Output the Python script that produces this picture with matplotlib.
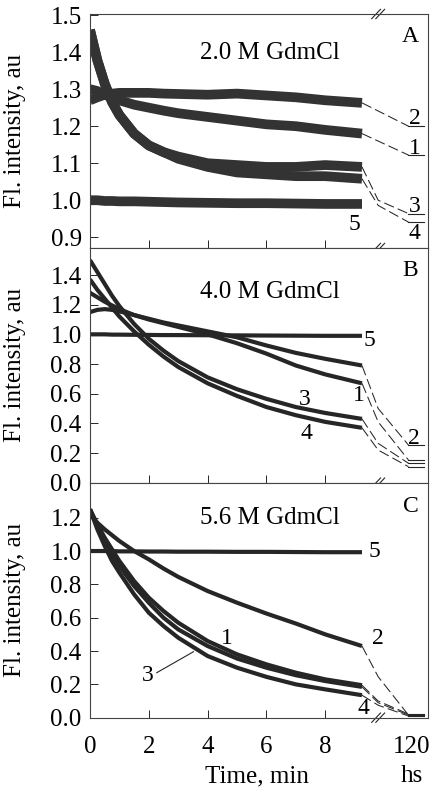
import matplotlib
matplotlib.use("Agg")
import matplotlib.pyplot as plt
from matplotlib.transforms import blended_transform_factory

plt.rcParams['font.family'] = ['Liberation Serif', 'DejaVu Serif']

# time points (min)
t = [0, 0.25, 0.5, 0.75, 1, 1.5, 2, 2.5, 3, 4, 5, 6, 7, 8, 9.25]

# A: 2.0 M GdmCl
a1 = [1.30, 1.295, 1.285, 1.277, 1.27, 1.258, 1.25, 1.242, 1.235, 1.225, 1.215, 1.205, 1.20, 1.19, 1.18]
a2 = [1.27, 1.278, 1.285, 1.288, 1.29, 1.29, 1.29, 1.288, 1.287, 1.285, 1.288, 1.283, 1.278, 1.27, 1.263]
a3 = [1.46, 1.378, 1.315, 1.265, 1.23, 1.18, 1.148, 1.13, 1.118, 1.10, 1.095, 1.09, 1.09, 1.095, 1.09]
a4 = [1.46, 1.378, 1.315, 1.265, 1.23, 1.18, 1.148, 1.13, 1.112, 1.09, 1.075, 1.07, 1.065, 1.065, 1.058]
a5 = [1.0, 1.0, 0.998, 0.998, 0.997, 0.997, 0.996, 0.995, 0.994, 0.993, 0.992, 0.992, 0.991, 0.99, 0.99]
a_break = [None, None, 1.00, 0.986]
a_final = [1.122, 1.20, 0.964, 0.941]

# B: 4.0 M GdmCl
b1 = [1.28, 1.25, 1.22, 1.195, 1.17, 1.13, 1.10, 1.075, 1.05, 1.00, 0.94, 0.87, 0.79, 0.73, 0.67]
b2 = [1.15, 1.165, 1.17, 1.165, 1.155, 1.13, 1.105, 1.08, 1.06, 1.02, 0.98, 0.925, 0.875, 0.835, 0.79]
b3 = [1.50, 1.42, 1.34, 1.26, 1.19, 1.07, 0.97, 0.89, 0.82, 0.71, 0.63, 0.565, 0.51, 0.47, 0.43]
b4 = [1.37, 1.30, 1.24, 1.18, 1.12, 1.02, 0.93, 0.85, 0.78, 0.67, 0.585, 0.51, 0.455, 0.41, 0.37]
b5 = [1.0, 1.0, 1.0, 0.998, 0.998, 0.997, 0.996, 0.995, 0.995, 0.994, 0.993, 0.992, 0.991, 0.99, 0.99]
b_break = [0.41, 0.50, 0.265, 0.22]
b_final = [0.153, 0.254, 0.131, 0.108]

# C: 5.6 M GdmCl
c1 = [1.25, 1.16, 1.08, 1.01, 0.94, 0.82, 0.72, 0.64, 0.57, 0.46, 0.38, 0.32, 0.27, 0.23, 0.195]
c2 = [1.22, 1.17, 1.13, 1.095, 1.06, 1.0, 0.95, 0.895, 0.845, 0.76, 0.69, 0.625, 0.565, 0.50, 0.43]
c3 = [1.25, 1.15, 1.06, 0.98, 0.91, 0.79, 0.69, 0.60, 0.53, 0.43, 0.355, 0.30, 0.255, 0.22, 0.185]
c4 = [1.25, 1.13, 1.03, 0.94, 0.87, 0.74, 0.63, 0.55, 0.48, 0.37, 0.30, 0.245, 0.20, 0.17, 0.135]
c5 = [1.0, 1.0, 1.0, 1.0, 0.998, 0.998, 0.997, 0.997, 0.996, 0.996, 0.995, 0.995, 0.994, 0.993, 0.993]
c_break = [0.10, 0.246, 0.09, 0.075]
c_final = [0.022, 0.016, 0.016, 0.01]

X_BREAK = 9.8    # axis break between minutes and hours
X_HS = 10.95     # position of the 120 hs point
INK = '#262626'


def draw_panel(ax, curves, breaks, finals, lw, color=INK):
    for y in curves:
        ax.plot(t, y, color=color, lw=lw, solid_capstyle='butt', solid_joinstyle='round')
    # dashed connectors from the end of the run to the 120 hs value
    for y, yb, yf in zip(curves[:4], breaks, finals):
        xs = [t[-1], X_BREAK, X_HS - 0.12] if yb is not None else [t[-1], X_HS - 0.12]
        ys = [y[-1], yb, yf] if yb is not None else [y[-1], yf]
        ax.plot(xs, ys, color=INK, lw=0.75, ls=(0, (10, 4)))
        ax.plot([X_HS - 0.12, X_HS + 0.4], [yf, yf], color=INK, lw=0.8)


def break_mark(ax, y):
    tr = blended_transform_factory(ax.transData, ax.transAxes)
    for dx in (-0.07, 0.07):
        ax.plot([X_BREAK + dx - 0.15, X_BREAK + dx + 0.15], [y - 0.02, y + 0.02],
                transform=tr, color=INK, lw=0.8, clip_on=False)


fig = plt.figure(figsize=(4.38, 7.93), dpi=100)
left, width = 0.2055, 0.772
axA = fig.add_axes([left, 0.68726, width, 0.29508])
axB = fig.add_axes([left, 0.39130, width, 0.29596])
axC = fig.add_axes([left, 0.09496, width, 0.29634])

draw_panel(axA, [a1, a2, a3, a4, a5], a_break, a_final, 7.0, color='#333333')
draw_panel(axB, [b1, b2, b3, b4, b5], b_break, b_final, 3.0)
draw_panel(axC, [c1, c2, c3, c4, c5], c_break, c_final, 3.0)

axA.set_ylim(0.871, 1.503)
axA.set_yticks([0.9, 1.0, 1.1, 1.2, 1.3, 1.4, 1.5])
axB.set_ylim(0, 1.582)
axB.set_yticks([0.0, 0.2, 0.4, 0.6, 0.8, 1.0, 1.2, 1.4])
axC.set_ylim(0, 1.41)
axC.set_yticks([0.0, 0.2, 0.4, 0.6, 0.8, 1.0, 1.2])

for ax in (axA, axB, axC):
    ax.set_xlim(0, 11.5)
    ax.set_xticks([0, 2, 4, 6, 8])
    ax.yaxis.set_major_formatter(matplotlib.ticker.FormatStrFormatter('%.1f'))
    ax.tick_params(direction='in', length=6, width=0.7, colors=INK, labelsize=18, labelcolor='black')
    ax.tick_params(axis='y', pad=6)
    for s in ax.spines.values():
        s.set_color('#444444')
        s.set_linewidth(0.8)
    ax.set_ylabel('Fl. intensity, au', fontsize=18)
    ax.yaxis.set_label_coords(-0.19, 0.5)
    break_mark(ax, 0.0)
break_mark(axA, 1.0)

axA.tick_params(axis='x', labelbottom=False)
axB.tick_params(axis='x', labelbottom=False)
axC.set_xticks([0, 2, 4, 6, 8, X_HS])
axC.set_xticklabels(['0', '2', '4', '6', '8', '120'])
axC.xaxis.get_major_ticks()[-1].tick1line.set_visible(False)
axC.tick_params(axis='x', pad=13)
trC = blended_transform_factory(axC.transData, axC.transAxes)
axC.text(5.68, -0.25, 'Time, min', transform=trC, ha='center', va='center', fontsize=18)
axC.text(X_HS, -0.25, 'hs', transform=trC, ha='center', va='center', fontsize=18)

fs = 17
# panel A annotations
axA.text(6.12, 1.397, '2.0 M GdmCl', ha='center', va='center', fontsize=18)
axA.text(10.9, 1.443, 'A', ha='center', va='center', fontsize=17)
for s, x, y in [('2', 11.05, 1.222), ('1', 11.05, 1.14), ('3', 11.05, 0.982), ('4', 11.05, 0.91), ('5', 9.01, 0.935)]:
    axA.text(x, y, s, ha='center', va='center', fontsize=fs)

# panel B annotations
axB.text(6.12, 1.287, '4.0 M GdmCl', ha='center', va='center', fontsize=18)
axB.text(10.9, 1.433, 'B', ha='center', va='center', fontsize=17)
for s, x, y in [('5', 9.5, 0.96), ('1', 9.13, 0.59), ('3', 7.31, 0.56), ('4', 7.37, 0.335), ('2', 11.0, 0.30)]:
    axB.text(x, y, s, ha='center', va='center', fontsize=fs)

# panel C annotations
axC.text(6.12, 1.196, '5.6 M GdmCl', ha='center', va='center', fontsize=18)
axC.text(10.9, 1.266, 'C', ha='center', va='center', fontsize=17)
for s, x, y in [('5', 9.69, 0.996), ('2', 9.8, 0.476), ('1', 4.65, 0.476), ('3', 1.98, 0.256), ('4', 9.3, 0.056)]:
    axC.text(x, y, s, ha='center', va='center', fontsize=fs)
axC.plot([2.27, 3.52], [0.27, 0.396], color=INK, lw=0.8)

fig.savefig('out.png', dpi=100)
